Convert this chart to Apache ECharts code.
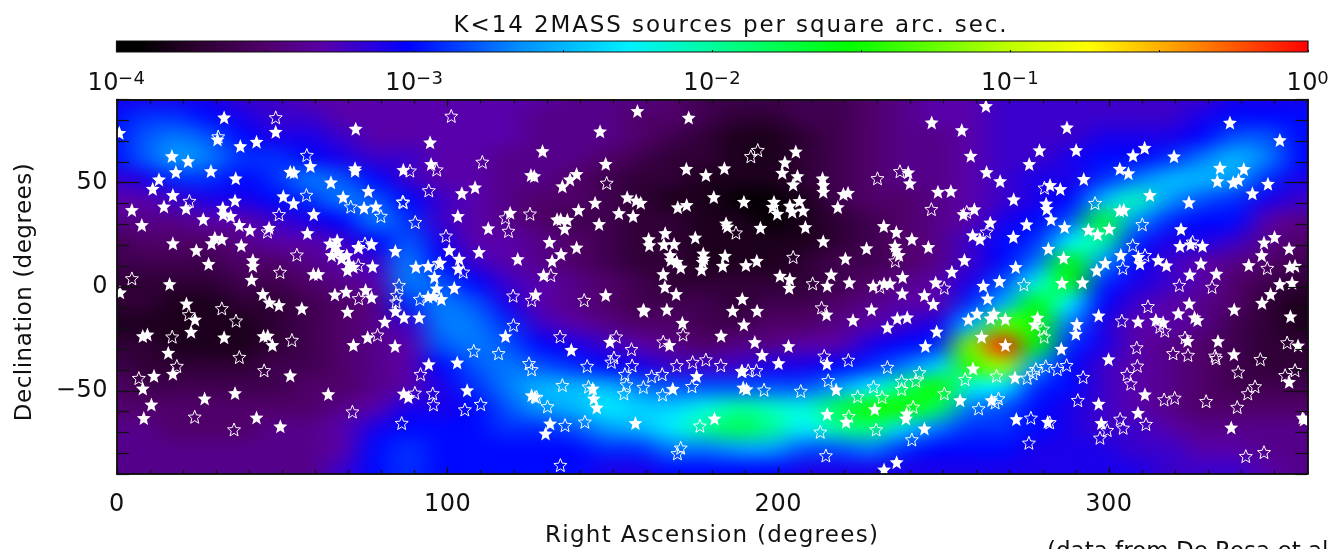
<!DOCTYPE html>
<html><head><meta charset="utf-8">
<style>html,body{margin:0;padding:0;background:#fff;overflow:hidden}#c{width:1328px;height:549px}</style>
<script src="https://cdn.jsdelivr.net/npm/echarts@6/dist/echarts.min.js"></script>
</head><body><div id="c"></div>
<script>
// Log10 of source density in tenths of a dex, sampled on a 10 degree mesh.
const heatDec = [92,82,72,62,52,42,32,22,12,2,-8,-18,-28,-38,-48,-58,-68,-78,-88];
const heatRA = [-2,8,18,28,38,48,58,68,78,88,98,108,118,128,138,148,158,168,178,188,198,208,218,228,238,248,258,268,278,288,298,308,318,328,338,348,358];
const heatColumns = [
[-31,-30,-30,-30,-32,-33,-34,-36,-36,-37,-37,-38,-37,-36,-35,-35,-34,-34,-34],
[-31,-29,-28,-28,-31,-33,-34,-35,-36,-37,-37,-38,-37,-37,-36,-35,-34,-34,-34],
[-31,-29,-27,-26,-29,-32,-34,-35,-36,-37,-38,-38,-38,-37,-36,-35,-35,-34,-34],
[-31,-30,-28,-27,-29,-31,-33,-35,-36,-37,-38,-38,-38,-37,-36,-35,-35,-34,-34],
[-32,-31,-30,-29,-30,-31,-33,-34,-35,-36,-37,-38,-38,-37,-36,-35,-35,-34,-34],
[-32,-32,-31,-29,-29,-30,-32,-33,-35,-36,-37,-37,-37,-36,-36,-35,-34,-34,-34],
[-33,-32,-31,-30,-27,-29,-31,-33,-34,-35,-36,-36,-36,-36,-35,-35,-34,-34,-34],
[-33,-33,-32,-31,-28,-27,-30,-32,-33,-34,-35,-35,-35,-35,-35,-34,-33,-33,-32],
[-33,-33,-33,-32,-30,-28,-27,-30,-32,-33,-34,-34,-34,-34,-34,-33,-31,-30,-30],
[-33,-33,-33,-32,-32,-30,-29,-28,-27,-27,-29,-32,-33,-33,-33,-31,-30,-29,-29],
[-33,-33,-33,-33,-33,-32,-32,-31,-30,-28,-27,-27,-28,-30,-31,-31,-30,-30,-30],
[-33,-33,-33,-33,-33,-33,-33,-33,-32,-30,-28,-27,-27,-28,-29,-30,-30,-30,-30],
[-33,-33,-33,-34,-34,-34,-34,-33,-33,-32,-31,-29,-28,-27,-27,-28,-29,-30,-30],
[-33,-34,-34,-34,-34,-35,-35,-34,-34,-33,-33,-32,-30,-28,-25,-26,-29,-30,-30],
[-34,-34,-34,-34,-35,-35,-36,-35,-35,-34,-34,-33,-31,-29,-25,-25,-28,-30,-30],
[-34,-34,-34,-35,-36,-36,-36,-36,-36,-35,-35,-34,-32,-30,-25,-23,-26,-29,-31],
[-34,-35,-35,-36,-37,-37,-37,-37,-37,-36,-36,-35,-33,-31,-27,-24,-25,-29,-31],
[-35,-35,-36,-37,-37,-38,-37,-37,-37,-37,-36,-35,-34,-32,-28,-24,-23,-27,-30],
[-36,-36,-37,-37,-38,-38,-38,-38,-38,-37,-36,-36,-35,-32,-28,-22,-20,-27,-30],
[-36,-37,-38,-38,-38,-39,-38,-38,-38,-37,-37,-36,-34,-32,-28,-20,-18,-26,-30],
[-36,-37,-38,-38,-38,-39,-39,-38,-38,-37,-36,-35,-34,-31,-28,-21,-20,-26,-30],
[-36,-36,-37,-37,-37,-38,-38,-38,-37,-37,-36,-35,-33,-31,-28,-22,-23,-28,-31],
[-36,-36,-36,-36,-36,-36,-37,-37,-36,-36,-35,-34,-33,-30,-26,-18,-20,-28,-31],
[-35,-35,-35,-35,-35,-35,-36,-36,-36,-35,-34,-33,-31,-29,-23,-15,-19,-27,-31],
[-34,-34,-34,-34,-34,-35,-35,-35,-35,-34,-33,-32,-30,-27,-19,-15,-24,-29,-31],
[-33,-33,-34,-34,-34,-34,-34,-34,-34,-33,-33,-31,-29,-24,-15,-18,-27,-30,-31],
[-33,-33,-33,-33,-33,-33,-33,-32,-32,-31,-29,-25,-12,-14,-22,-27,-29,-30,-31],
[-32,-32,-32,-32,-32,-32,-31,-30,-30,-28,-25,-13,-1,-11,-23,-28,-29,-30,-31],
[-32,-32,-32,-32,-31,-31,-30,-29,-27,-22,-16,-15,-16,-26,-29,-30,-30,-31,-31],
[-32,-32,-32,-31,-31,-30,-28,-23,-16,-16,-23,-27,-29,-30,-30,-31,-31,-31,-31],
[-32,-32,-31,-30,-29,-25,-17,-20,-26,-29,-30,-31,-31,-32,-32,-32,-32,-31,-31],
[-32,-32,-31,-30,-27,-21,-26,-29,-30,-31,-32,-33,-33,-33,-33,-33,-32,-32,-31],
[-32,-32,-31,-29,-25,-26,-29,-31,-32,-32,-33,-33,-34,-34,-34,-34,-33,-32,-32],
[-32,-31,-30,-27,-25,-28,-30,-31,-33,-33,-34,-34,-35,-35,-35,-35,-34,-33,-32],
[-31,-30,-28,-25,-26,-29,-30,-32,-34,-35,-35,-36,-36,-36,-36,-35,-34,-33,-32],
[-31,-30,-28,-27,-29,-31,-33,-34,-35,-36,-37,-37,-37,-37,-36,-35,-34,-34,-33],
[-31,-30,-30,-30,-31,-32,-34,-35,-36,-37,-38,-38,-37,-37,-36,-35,-34,-34,-34]
];
const filledStars = [
[0.7,74],[32.4,81.4],[48,74.5],[30.4,70.8],[37.3,67.6],[42.2,69.7],[72.2,76],[16.6,62.8],[21.5,60.4],[17.8,55.1],[28.4,55.6],[12.7,51.6],[35.9,52.1],[10.8,47.1],[52.4,55.3],[53.5,55],[58.5,58],[72,57],[72,55.8],[86.6,56.2],[64.7,50.2],[76,46],[16.9,44.1],[50.3,43.5],[53.4,40.1],[35.7,41.5],[68.4,43.1],[4.5,36.9],[14.2,38.6],[20.9,37.7],[32,38],[32.1,34.8],[34.4,34],[74.7,38],[78.3,38.6],[59.5,34.9],[26.1,32.5],[7.5,29.7],[37,29.7],[40.2,27.3],[46,28.4],[57.6,25.8],[29.6,23.6],[31.7,22.9],[28.6,20.9],[16.9,20.9],[37.6,19.9],[24,17.6],[27.7,11],[41.1,12.8],[41.1,10.1],[40.7,3.4],[15.9,1.3],[59.4,6.1],[60.9,6.1],[77.3,9.8],[84.2,17.2],
[64.4,20.8],[66.6,22.4],[65.9,19.2],[64.9,15.2],[66.9,16.8],[67.9,13.6],[69.5,15.2],[70,11.2],[71.5,9.6],[69.7,8],[73,19.2],[77,20.5],
[94.7,69.4],[95,59],[128.7,65.2],[146.1,74.7],[157.4,84.5],[172.9,81.3],[147.8,59.1],[172.2,56.7],[178.1,53.7],[125.2,53.7],[126.2,53.2],[139,54.2],[137,51.6],[134.7,48.3],[108.3,47.8],[104.3,45],[144.6,40.4],[154.3,43],[157,41.5],[158.4,40.4],[169.6,38.2],[172.3,39.3],[118.9,35.6],[103.1,34],[139.6,36.9],[151.8,35.4],[156.1,34],[133.1,32.4],[134.2,32.5],[136.2,32.2],[145.8,30.2],[135.4,27.9],[112.3,28.1],[165.8,25.8],[174.9,23.7],[160.8,22.9],[161,20],[165.4,20.4],[168.5,20.5],[130.8,21.5],[139,18.9],[100.5,17.6],[109.5,16.7],[134.3,15.7],[103.5,13.5],[121.2,13.3],[131.6,12.4],[167.3,15.2],[167.5,12.8],[169.3,12],[177.3,16],[177.5,13.6],[177.1,12],[176.8,8.3],[170.5,9.3],[90.4,9.6],[94.1,10],[97.7,11.6],[96,4.7],[103.2,8.8],[129,5.6],[165.2,6.1],[165.7,0],[96.7,-0.8],[102,-0.5],
[262.8,86.9],[246.4,79],[255.5,75.3],[258.2,63],[263,55.1],[267.1,50.8],[205.3,65],[202,59.8],[183.7,57],[201.2,54.8],[205.8,53.2],[204.5,49.2],[213.4,52.1],[213.6,48.9],[213.6,45.7],[219.7,44.6],[221.1,45.2],[239.3,55],[239.8,49.7],[248.3,45.7],[252.2,46],[180.5,43.1],[189.6,40.9],[206.4,41.2],[198.7,40.9],[198.3,38.5],[199.7,35.1],[203.5,39],[204.2,36.1],[207.5,36.6],[218,38.3],[256,34.9],[259.3,37.3],[264.1,30.9],[258.8,24.8],[261,22.9],[184.2,30.5],[184.6,29],[194.6,28.4],[208.2,28.7],[231.9,29.2],[235.7,26.3],[240.4,22.9],[213.6,21.9],[226.7,18.5],[235.3,19.7],[235.6,17.6],[236.5,15.3],[245.4,19.1],[220.3,13.6],[183.9,14.9],[183.2,10.1],[190.2,10.4],[193.5,12.5],[256.3,12.8],[252.5,7.2],[200.5,5.3],[203.5,3.7],[216,5.9],[221.5,2.1],[214.8,0.5],[203.3,-0.5],[237.6,4.7],[228.7,0.5],[232,1.6],[233.8,1.6],[247.6,2.1],[262,0.5],[266.9,2.7],
[287.3,76.6],[279,65.6],[290.1,65.7],[275.9,59],[310.8,66.8],[307.3,63.2],[319.7,62.7],[336.6,78.9],[351.7,70.5],[303.3,56.7],[305.9,54.6],[292.4,51.8],[333.6,57.2],[340.8,56.6],[332.8,50.8],[337.6,50.2],[339.2,51.4],[348.1,49.5],[343.4,44.9],[282.2,48.9],[285.3,47],[271.2,42],[312.4,44.1],[324.2,40.6],[281,40],[281.2,37.4],[303.3,36.7],[304.5,37],[282.5,32.4],[275.1,30],[286.6,28.7],[293.8,27.4],[296.6,25.2],[300.1,27.9],[321.8,27.7],[271.1,24],[281.7,18.3],[286.3,13.9],[321.5,19.6],[324.7,20.4],[328.3,19.7],[303.6,15.3],[308.9,14.4],[314.9,12.8],[309.4,11.2],[317.4,10.3],[298.9,11.4],[296.3,7.9],[271.8,9.5],[327.8,11.2],[324.5,5.9],[332.5,6.3],[285.8,1.9],[292,2.1],[342.3,10.4],[346.2,15.2],[346.9,21.3],[350.1,23.9],[354.5,18.4],[354.7,9.6],[356.3,10.1],[351.7,1.3],[355.4,1.9],
[0.9,-2.7],[44.1,-3.5],[46.1,-7.5],[49,-8.8],[55.9,-10.4],[21,-8],[23.6,-15.7],[65.9,-3.7],[69.3,-2.4],[75.2,-1.6],[77,-5.1],[69.7,-12],[84.2,-11.7],[86.8,-14.7],[81,-16.8],[75.8,-24.3],[71.5,-28],[84.1,-28.5],[7.8,-23.7],[9.2,-22.9],[22.4,-21.6],[32.4,-24.3],[44.3,-23.7],[45.6,-23.5],[47,-28],[15.5,-31.7],[16.9,-41.8],[11.2,-42.8],[52.4,-42.6],[7.8,-48.9],[10.4,-56.6],[8.1,-63.1],[26.5,-53.7],[35.7,-51.1],[42.2,-62.8],[49.4,-67.1],[63.9,-51.6],[86.7,-51.3],[88.1,-53],
[94.1,-4.8],[95.7,-4.5],[98.1,-5.9],[126.6,-3.7],[147.8,-4],[169.1,-3.5],[159.2,-11],[159.4,-11.6],[166.3,-10.9],[171,-17.3],[91.4,-14.7],[117.5,-23.7],[137.4,-30.3],[149.1,-26.4],[167.1,-28],[94.3,-37.2],[102.9,-36.4],[175.3,-42.9],[105.9,-49.7],[168.1,-49],[125.4,-52.1],[126.4,-52.9],[143.9,-48.9],[144.2,-53.7],[145.1,-58],[131,-65.7],[129.6,-70.5],[156.8,-65.5],
[189.1,-5.8],[186.2,-11.5],[193.6,-11.5],[189.6,-18.1],[182.7,-23.5],[192.9,-26.6],[203.1,-28.5],[195.1,-32.8],[200.1,-36.7],[214.6,-13.3],[228.2,-10.9],[222.6,-16],[233,-19.5],[236,-15.2],[239,-14.7],[237.5,-3.2],[244.2,-4],[246.9,-8.3],[247.9,-21.5],[244.5,-28.5],[263.3,-5.6],[257.5,-15.7],[260.1,-12.9],[264.2,-15.2],[265.2,-12.9],[268.7,-15.5],[261.5,-24],[268.7,-28],[258.9,-39.3],[255,-54.5],[264.5,-54.5],[189,-40.6],[189.4,-48.4],[190.4,-49.2],[214.7,-37],[217.5,-49.4],[229.2,-58.8],[214.8,-61.2],[220.5,-64.9],[238.8,-60.9],[238.6,-63.3],[244.2,-68.1],[235.8,-84.3],[232,-87.8],[180.7,-63.3],
[278.4,-14.8],[277.6,-18.1],[290.3,-17.9],[290,-22.6],[296.9,-13.8],[308.8,-16.7],[314.2,-15.9],[316.4,-17.1],[321,-12.8],[324.3,-8],[325.9,-14.7],[326.8,-16],[337.9,-10.9],[346.3,-7.7],[348.9,-3.5],[354.9,-14.2],[357.2,-28.2],[333,-26.1],[323.8,-26],[337.8,-32.4],[285.6,-29.8],[299.9,-34.8],[271.6,-43.6],[310.9,-51.7],[296.9,-56.2],[308.8,-60.6],[297.7,-65.5],[272,-63.6],[281.5,-64.9],[337,-67.6],[359,-63.8],[358.6,-62.8],[354.5,-45.7]
];
const hollowStars = [
[48,81.4],[30.6,72.2],[57.4,63.3],[21.9,41.2],[57.3,44.1],[70.7,38.5],[79.8,34],[49,34.8],[86.4,40.9],[45.5,26.5],[54.4,15.4],[49.3,7.1],[4.5,4],[73,18.9],[75,20.8],[73,10.4],[85.3,0.8],
[101.1,82.1],[110.5,60],[96.7,56.3],[88.6,55.8],[94.3,46.3],[86.6,40.6],[148.1,49.9],[124.9,35.1],[117.5,33.2],[90.2,31.1],[118.4,26.8],[99.5,24.5],[97.3,11.2],[104.7,7.2],[131.2,5.6],
[191.7,62.7],[193.8,65.7],[230,52.1],[236.8,55.5],[246.3,37.3],[257,36],[263,26.4],[187.2,26],[204.5,14.3],[235.4,12.5],[210.4,1.6],[250.2,-0.5],[230.7,0],
[280.5,47.6],[295.8,40.2],[310.1,30],[307.2,20],[325.3,21.6],[310.9,15.2],[304.2,9],[347.9,9],[274.3,1.1],[321.3,0.8],[331.2,-0.1],
[31.7,-10.4],[36,-16.3],[21.7,-13.3],[16.7,-24],[52.9,-25.6],[37,-33.8],[18.1,-38.1],[44.5,-40.2],[6.6,-43.9],[23.5,-62.5],[35.4,-68.6],[71.2,-60],[86.1,-65.5],[78.8,-23.1],[73.1,-5.6],[84.6,-4],[84.4,-7.2],
[91.6,-5.9],[119.8,-4.3],[125.4,-6.4],[141.3,-6.4],[119.9,-18.4],[134,-23.9],[151,-24],[165.2,-26.4],[171.2,-23],[155.6,-30],[107.9,-30.8],[115.4,-32],[124.6,-36.8],[125.4,-39.7],[142.2,-38.1],[150.3,-34],[149.5,-36.1],[155.8,-37.8],[169.3,-37.8],[174.1,-36.2],[178.1,-35],[153.6,-42],[161.7,-43],[164.9,-42],[134.7,-47.3],[154.1,-47],[142.6,-48],[159.2,-48.2],[153.3,-51.3],[165,-51.8],[173.9,-47.8],[91.8,-42],[95.5,-51.3],[95.7,-56.6],[90.1,-51],[110,-56.4],[105.2,-59],[126.9,-53],[130.2,-57.5],[135.5,-66.5],[141.5,-64.9],[176.3,-66.8],[170.5,-77.4],[169.5,-80.1],[134.1,-85.7],
[182.6,-37.7],[190.9,-40.2],[193.4,-40.2],[189,-40.5],[195.7,-49.5],[206.8,-50.1],[213.1,-10],[213.9,-33.2],[221.2,-35.2],[233,-38.6],[215.1,-45],[228.8,-48],[224,-52.7],[231.4,-53],[237.3,-45.3],[237.3,-49.2],[242.7,-41.2],[241.6,-45.2],[256.5,-44.4],[250.2,-51.3],[240.8,-57.7],[221.3,-62.2],[212.7,-69.7],[229.6,-68.6],[240.4,-73.4],[214.4,-81.1],[260.6,-58.5],[266,-42.8],[266.6,-53.7],[265.6,-55.6],
[311.8,-9.4],[303.9,-16.3],[316.9,-21.1],[315.4,-19.2],[323,-24.4],[308.4,-29.2],[319.4,-32],[323.9,-32.8],[332.1,-33.2],[332.4,-34.4],[345.8,-34.8],[353.9,-26.8],[308.6,-38],[305.5,-42],[306.6,-46.6],[339.1,-40.9],[356.3,-40.1],[353.3,-42.5],[344.2,-47.9],[342,-51.3],[316.7,-54.2],[319.9,-53.4],[329.4,-55],[338.8,-57.8],[290.6,-54.5],[292.2,-43.4],[287.2,-37.7],[284.4,-39.6],[280.9,-38.2],[277.9,-39.6],[277.1,-41.7],[275.3,-43.8],[280.1,-20.2],[280.4,-24],[276.4,-63],[282.1,-65.2],[275.8,-75],[303.4,-63.5],[304.3,-67.8],[299.5,-68.9],[297.3,-72.6],[311.2,-66],[341.4,-81.4],[346.9,-79.5]
];
const raLabelTicks = [0,100,200,300];
const decLabelTicks = [-50,0,50];
const barLabelTicks = [-4,-3,-2,-1,0];
const titleText = 'K<14 2MASS sources per square arc. sec.';
const xTitle = 'Right Ascension (degrees)';
const yTitle = 'Declination (degrees)';
const noteText = '(data from De Rosa et al';

// The reference sets its captions with wide tracking; apply it while those strings are drawn.
const tracking = {[titleText]:'1.9px',[xTitle]:'1.3px',[yTitle]:'0.5px'};
const plainFillText = CanvasRenderingContext2D.prototype.fillText;
CanvasRenderingContext2D.prototype.fillText = function(t,x,y,m){
  const saved=this.letterSpacing;
  if (tracking[t]) this.letterSpacing=tracking[t];
  const r = m===undefined ? plainFillText.call(this,t,x,y) : plainFillText.call(this,t,x,y,m);
  this.letterSpacing=saved;
  return r;
};

const palette = [[0,'#000000'],[0.02,'#000000'],[0.062,'#28002a'],[0.125,'#50006a'],[0.173,'#5a00a8'],[0.216,'#2800e0'],[0.244,'#0000ff'],[0.34,'#0090ff'],[0.43,'#00f0ff'],[0.52,'#00ff80'],[0.615,'#00ff00'],[0.75,'#c0ff00'],[0.815,'#ffff00'],[0.875,'#ffb000'],[1,'#ff0000']];
const hex = c => [1,3,5].map(i => parseInt(c.substr(i,2),16));
function paletteColor(f){
  for (let i=1;i<palette.length;i++){
    if (f<=palette[i][0]){
      const a=palette[i-1],b=palette[i],t=(f-a[0])/(b[0]-a[0]),ca=hex(a[1]),cb=hex(b[1]);
      return ca.map((v,k)=>Math.round(v+(cb[k]-v)*t));
    }
  }
  return hex(palette[palette.length-1][1]);
}
// One pixel per mesh node, with a one-pixel repeated edge; the browser's image smoothing softens the cells.
function heatImage(){
  const nx=heatRA.length, ny=heatDec.length, base=document.createElement('canvas');
  base.width=nx+2; base.height=ny+2;
  const bc=base.getContext('2d'), img=bc.createImageData(nx+2,ny+2);
  for (let i=0;i<nx+2;i++) for (let j=0;j<ny+2;j++){
    const v=heatColumns[Math.min(nx-1,Math.max(0,i-1))][Math.min(ny-1,Math.max(0,j-1))];
    const c=paletteColor((v/10+4)/4), o=(j*(nx+2)+i)*4;
    img.data[o]=c[0];img.data[o+1]=c[1];img.data[o+2]=c[2];img.data[o+3]=255;
  }
  bc.putImageData(img,0,0);
  const s=16, hi=document.createElement('canvas');
  hi.width=nx*s; hi.height=ny*s;
  const hc=hi.getContext('2d');
  hc.imageSmoothingEnabled=true; hc.imageSmoothingQuality='high';
  hc.filter='blur(2.5px)';
  hc.drawImage(base,-s,-s,(nx+2)*s,(ny+2)*s);
  return hi;
}
const heatCanvas=heatImage();
const ink='#111';
const font='"DejaVu Sans"';
const starPath='path://M10 .5L12.6 6.94L19.5 7.4L14.2 11.86L15.9 18.6L10 14.9L4.1 18.6L5.8 11.86L0.5 7.4L7.4 6.94Z';
const spine={show:true,onZero:false,lineStyle:{color:ink,width:1.5}};

function xAx(pos,major){
  return {type:'value',min:0,max:360,position:pos,gridIndex:0,z:6,
    interval:major?100:10,splitLine:{show:false},axisLine:spine,
    axisTick:{show:true,inside:true,length:major?7:4,lineStyle:{color:ink,width:1.2},customValues:major?raLabelTicks:undefined},
    axisLabel:{show:major&&pos==='bottom',margin:19,color:ink,fontFamily:font,fontSize:24,customValues:raLabelTicks,formatter:v=>String(v)},
    name:major&&pos==='bottom'?xTitle:'',nameLocation:'middle',nameGap:51,nameTextStyle:{color:ink,fontFamily:font,fontSize:23}};
}
function yAx(pos,major){
  return {type:'value',min:-90,max:90,position:pos,gridIndex:0,z:6,
    interval:major?50:10,splitLine:{show:false},axisLine:spine,
    axisTick:{show:true,inside:true,length:major?23:12,lineStyle:{color:ink,width:1.2},customValues:major?decLabelTicks:undefined},
    axisLabel:{show:major&&pos==='left',margin:9,padding:[5,0,0,0],color:ink,fontFamily:font,fontSize:24,customValues:decLabelTicks,formatter:v=>String(v).replace('-','\u2212')}};
}
const option={
  animation:false,backgroundColor:'#fff',
  title:{text:titleText,left:726,top:10,textAlign:'center',textStyle:{color:ink,fontFamily:font,fontSize:23,fontWeight:'normal'}},
  graphic:[
    {type:'text',left:1047,top:541,style:{text:noteText,fill:ink,font:'23px '+font}},
    {type:'text',x:25,y:292,rotation:Math.PI/2,style:{text:yTitle,fill:ink,font:'23px '+font,align:'center',verticalAlign:'middle'}}
  ],
  grid:[
    {left:117,top:99.5,width:1190.3,height:374.5,outerBoundsMode:'none'},
    {left:116.5,top:41,width:1191.5,height:11,outerBoundsMode:'none'}
  ],
  xAxis:[xAx('bottom',true),xAx('bottom',false),xAx('top',true),xAx('top',false),
    {type:'value',gridIndex:1,min:-4,max:0,interval:0.5,position:'bottom',z:6,splitLine:{show:false},
     axisLine:{show:false,onZero:false},
     axisTick:{show:true,inside:true,length:2,lineStyle:{color:ink,width:1}},
     axisLabel:{show:true,margin:18,customValues:barLabelTicks,
       formatter:v=>'{b|10}{s|'+String(v).replace('-','\u2212')+'}',
       rich:{b:{fontFamily:font,fontSize:24,color:ink},s:{fontFamily:font,fontSize:18,color:ink,verticalAlign:'top',padding:[0,0,10,0]}}}}
  ],
  yAxis:[yAx('left',true),yAx('left',false),yAx('right',true),yAx('right',false),
    {type:'value',gridIndex:1,min:0,max:1,show:false}
  ],
  series:[
    {type:'custom',name:'density',xAxisIndex:0,yAxisIndex:0,clip:true,silent:true,z:1,data:[[0,0]],
     renderItem:(p,api)=>{
       const half=5,a=api.coord([heatRA[0]-half,heatDec[0]+half]),b=api.coord([heatRA[heatRA.length-1]+half,heatDec[heatDec.length-1]-half]);
       return {type:'image',style:{image:heatCanvas,x:a[0],y:a[1],width:b[0]-a[0],height:b[1]-a[1]}};
     }},
    {type:'scatter',name:'hollow',xAxisIndex:0,yAxisIndex:0,z:3,data:hollowStars,symbol:starPath,symbolSize:13,silent:true,
     itemStyle:{color:'rgba(0,0,0,0)',borderColor:'#fff',borderWidth:1,opacity:1}},
    {type:'scatter',name:'filled',xAxisIndex:0,yAxisIndex:0,z:4,data:filledStars,symbol:starPath,symbolSize:14,silent:true,
     itemStyle:{color:'#fff',opacity:1}},
    {type:'custom',name:'colour bar',xAxisIndex:4,yAxisIndex:4,silent:true,z:1,data:[[-4,0]],
     renderItem:(p,api)=>{
       const a=api.coord([-4,1]),b=api.coord([0,0]);
       return {type:'rect',shape:{x:a[0],y:a[1],width:b[0]-a[0],height:b[1]-a[1]},
         style:{fill:new echarts.graphic.LinearGradient(0,0,1,0,palette.map(s=>({offset:s[0],color:s[1]}))),stroke:ink,lineWidth:1.2}};
     }}
  ]
};
echarts.init(document.getElementById('c')).setOption(option);
</script></body></html>
